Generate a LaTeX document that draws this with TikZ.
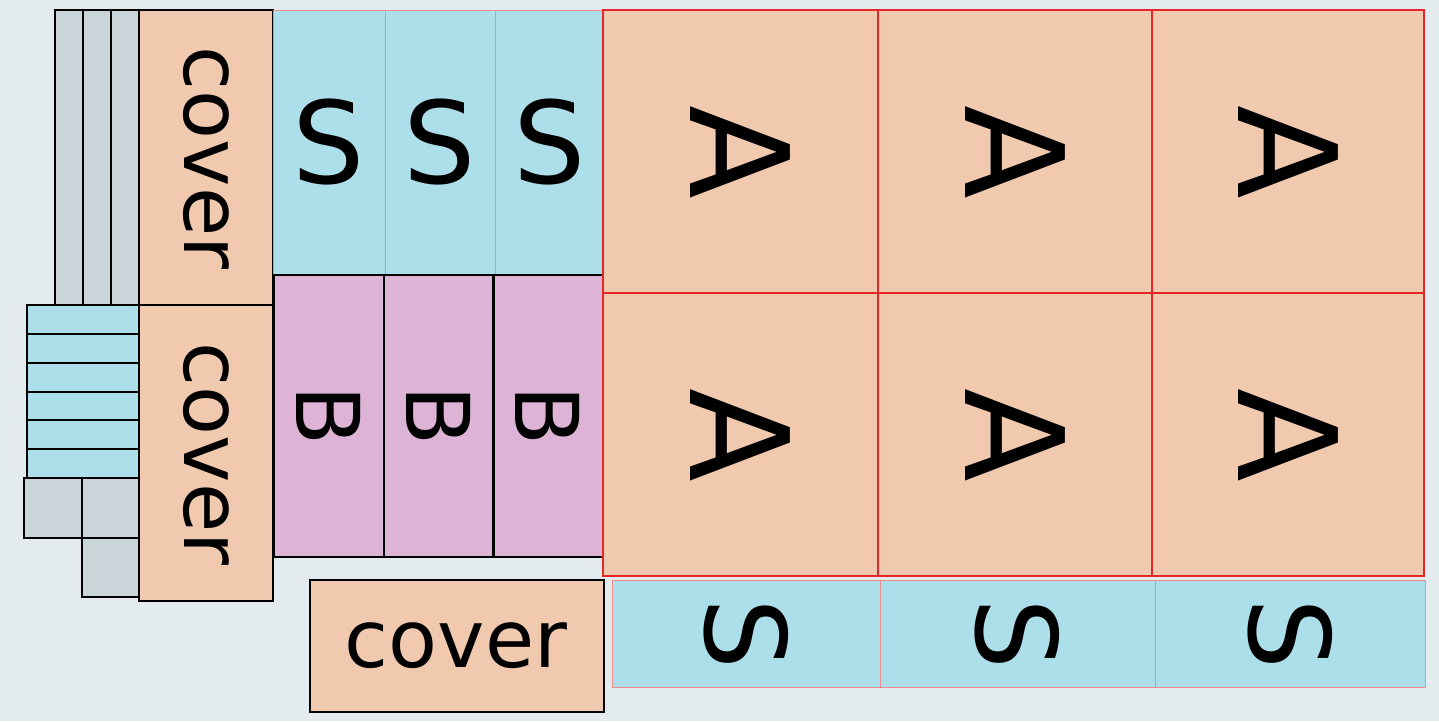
\documentclass[tikz,border=0pt]{standalone}
\usepackage{fontspec}
\setmainfont{DejaVu Sans}
\definecolor{bgcol}{HTML}{E3EBEE}
\definecolor{peachcol}{HTML}{F1C9AF}
\definecolor{bluecol}{HTML}{ADDFEB}
\definecolor{pinkcol}{HTML}{DDB4D6}
\definecolor{graycol}{HTML}{C9D5D8}
\definecolor{redline}{HTML}{E4262B}
\definecolor{pinkline}{HTML}{EE8C8E}
\tikzset{
  grayblock/.style={fill=graycol, draw=black, line width=1.2pt},
  blueblock/.style={fill=bluecol, draw=black, line width=1.2pt},
  coverblock/.style={fill=peachcol, draw=black, line width=1.2pt},
  sblock/.style={fill=bluecol, draw=pinkline, line width=1pt},
  bblock/.style={fill=pinkcol, draw=black, line width=1.5pt},
  ablock/.style={fill=peachcol, draw=redline, line width=2pt},
  lab/.style={inner sep=0pt, text=black},
}
\begin{document}
\begin{tikzpicture}[x=1pt,y=-1pt]
\fill[bgcol] (0,0) rectangle (1439,721);

% left side
\foreach \x in {55,83,111}
  \draw[grayblock] (\x,10) rectangle ++(28,295);
\foreach \y in {305,334,363,392,420,449}
  \draw[blueblock] (27,\y) rectangle (139,\y+29);
\draw[grayblock] (24,478) rectangle (82,538);
\draw[grayblock] (82,478) rectangle (139,538);
\draw[grayblock] (82,538) rectangle (139,597);

\draw[coverblock] (139,10) rectangle (273,305);
\draw[coverblock] (139,305) rectangle (273,601);
\draw[coverblock] (310,580) rectangle (604,712);
\node[lab, rotate=-90, font=\fontsize{80}{80}\selectfont] (cover1) at (206,158) {cover};
\node[lab, rotate=-90, font=\fontsize{80}{80}\selectfont] (cover2) at (206,454) {cover};
\node[lab, font=\fontsize{80}{80}\selectfont] (cover3) at (456,646) {cover};

% S and B columns
\foreach \x/\w [count=\i] in {273/112,385/110,495/109} {
  \draw[sblock] (\x,10) rectangle ++(\w,265);
  \node[lab, font=\fontsize{114}{114}\selectfont] (s\i) at (\x+\w/2,142) {S};
}
\foreach \x/\w [count=\i] in {274/110,384/109,493/110} {
  \draw[bblock] (\x,275) rectangle ++(\w,282);
  \node[lab, rotate=-90, font=\fontsize{88}{88}\selectfont] (b\i) at (\x+\w/2,416) {B};
}
\draw[line width=3pt] (493,275) -- (493,557);

% A grid
\foreach \x/\w [count=\i] in {603/275,878/274,1152/272} {
  \foreach \y [count=\j] in {10,293} {
    \draw[ablock] (\x,\y) rectangle ++(\w,283);
    \node[lab, rotate=-90, font=\fontsize{137}{137}\selectfont] (a\j\i) at (\x+\w/2,\y+142) {A};
  }
}
\foreach \x/\w [count=\i] in {612/268,880/275,1155/270} {
  \draw[sblock] (\x,580) rectangle ++(\w,107);
  \node[lab, rotate=-90, font=\fontsize{112}{112}\selectfont] (sb\i) at (\x+\w/2,634) {S};
}
\end{tikzpicture}
\end{document}
